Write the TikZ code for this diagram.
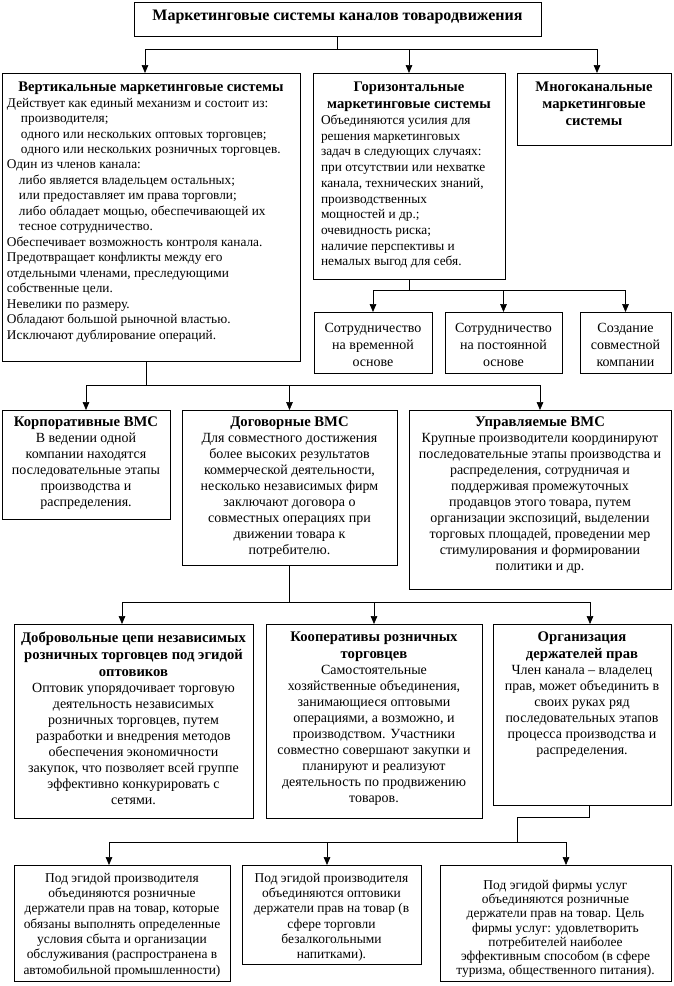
\documentclass[tikz,border=0pt]{standalone}
\usepackage{fontspec}
\setmainfont{Liberation Serif}
\usetikzlibrary{arrows.meta}
\newdimen\pxu \pxu=0.75pt
\newcommand\myTT{\fontsize{12}{14}\bfseries\selectfont}
\newcommand\myT{\fontsize{11}{12.75}\bfseries\selectfont}
\newcommand\myB{\fontsize{10.5}{12}\selectfont}
\newcommand\myM{\fontsize{10.5}{12.75}\selectfont}
\newcommand\myV{\fontsize{10}{11.6}\selectfont}
\newcommand\myH{\fontsize{10}{11.8}\selectfont}
\newcommand\myS{\fontsize{10.1}{11.5}\selectfont}
\newcommand\mySS{\fontsize{10.1}{10.7}\selectfont}
\tikzset{
  boxst/.style={draw, line width=0.5pt, inner sep=0pt, outer sep=0pt, anchor=north west},
  ln/.style={line width=0.5pt},
  arr/.style={ln, -{Triangle[length=6pt,width=5pt]}}
}
\newcommand\drawbox[6]{\node[boxst] (#1) at (#2,#3) {\parbox[t][\dimexpr\pxu*(#5-#3)\relax][t]{\dimexpr\pxu*(#4-#2)\relax}{\centering #6}};}
\begin{document}
\begin{tikzpicture}[x=0.75pt,y=-0.75pt]
\useasboundingbox (0,0) rectangle (674,986);
\fill[white] (0,0) rectangle (674,986);

\drawbox{top}{134}{2}{541}{36}{\vspace*{8\pxu}{\myTT Маркетинговые системы каналов товародвижения\par}}

\drawbox{vert}{2}{73}{300}{361}{\vspace*{9\pxu}{\myT Вертикальные маркетинговые системы\par}
{\myV\raggedright\leftskip=5\pxu
Действует как единый механизм и состоит из:\\
\hspace*{14\pxu}производителя;\\
\hspace*{14\pxu}одного или нескольких оптовых торговцев;\\
\hspace*{14\pxu}одного или нескольких розничных торговцев.\\
Один из членов канала:\\
\hspace*{12\pxu}либо является владельцем остальных;\\
\hspace*{12\pxu}или предоставляет им права торговли;\\
\hspace*{12\pxu}либо обладает мощью, обеспечивающей их\\
\hspace*{12\pxu}тесное сотрудничество.\\
Обеспечивает возможность контроля канала.\\
Предотвращает конфликты между его\\
отдельными членами, преследующими\\
собственные цели.\\
Невелики по размеру.\\
Обладают большой рыночной властью.\\
Исключают дублирование операций.\par}}

\drawbox{hor}{313}{73}{505}{279}{\vspace*{9\pxu}{\myT Горизонтальные\\маркетинговые системы\par}
{\myH\raggedright\leftskip=8\pxu
Объединяются усилия для\\
решения маркетинговых\\
задач в следующих случаях:\\
при отсутствии или нехватке\\
канала, технических знаний,\\
производственных\\
мощностей и др.;\\
очевидность риска;\\
наличие перспективы и\\
немалых выгод для себя.\par}}

\drawbox{multi}{517}{73}{671}{145}{\vspace*{9\pxu}{\myT Многоканальные\\маркетинговые\\системы\par}}

\drawbox{s1}{314}{312}{432}{373}{\vspace*{11\pxu}{\myM Сотрудничество\\на временной\\основе\par}}
\drawbox{s2}{445}{312}{562}{373}{\vspace*{11\pxu}{\myM Сотрудничество\\на постоянной\\основе\par}}
\drawbox{s3}{580}{312}{671}{373}{\vspace*{11\pxu}{\myM Создание\\совместной\\компании\par}}

\drawbox{corp}{2}{410}{170}{519}{\vspace*{7\pxu}{\myT Корпоративные ВМС\par}
{\myB В ведении одной\\компании находятся\\последовательные этапы\\производства и\\распределения.\par}}

\drawbox{dog}{182}{410}{397}{565}{\vspace*{7\pxu}{\myT Договорные ВМС\par}
{\myB Для совместного достижения\\более высоких результатов\\коммерческой деятельности,\\несколько независимых фирм\\заключают договора о\\совместных операциях при\\движении товара к\\потребителю.\par}}

\drawbox{upr}{409}{410}{671}{589}{\vspace*{7\pxu}{\myT Управляемые ВМС\par}
{\myB Крупные производители координируют\\последовательные этапы производства и\\распределения, сотрудничая и\\поддерживая промежуточных\\продавцов этого товара, путем\\организации экспозиций, выделении\\торговых площадей, проведении мер\\стимулирования и формировании\\политики и др.\par}}

\drawbox{dobr}{14}{624}{253}{818}{\vspace*{8\pxu}{\myT Добровольные цепи независимых\\розничных торговцев под эгидой\\оптовиков\par}
{\myB Оптовик упорядочивает торговую\\деятельность независимых\\розничных торговцев, путем\\разработки и внедрения методов\\обеспечения экономичности\\закупок, что позволяет всей группе\\эффективно конкурировать с\\сетями.\par}}

\drawbox{koop}{266}{624}{482}{818}{\vspace*{8\pxu}{\myT Кооперативы розничных\\торговцев\par}
{\myB Самостоятельные\\хозяйственные объединения,\\занимающиеся оптовыми\\операциями, а возможно, и\\производством. Участники\\совместно совершают закупки и\\планируют и реализуют\\деятельность по продвижению\\товаров.\par}}

\drawbox{org}{493}{624}{671}{805}{\vspace*{8\pxu}{\myT Организация\\держателей прав\par}
{\myB Член канала – владелец\\прав, может объединить в\\своих руках ряд\\последовательных этапов\\процесса производства и\\распределения.\par}}

\drawbox{b1}{14}{865}{230}{981}{\vspace*{8\pxu}{\myS Под эгидой производителя\\объединяются розничные\\держатели прав на товар, которые\\обязаны выполнять определенные\\условия сбыта и организации\\обслуживания (распространена в\\автомобильной промышленности)\par}}

\drawbox{b2}{242}{865}{421}{964}{\vspace*{8\pxu}{\myS Под эгидой производителя\\объединяются оптовики\\держатели прав на товар (в\\сфере торговли\\безалкогольными\\напитками).\par}}

\drawbox{b3}{440}{865}{671}{981}{\vspace*{15\pxu}{\mySS Под эгидой фирмы услуг\\объединяются розничные\\держатели прав на товар. Цель\\фирмы услуг: удовлетворить\\потребителей наиболее\\эффективным способом (в сфере\\туризма, общественного питания).\par}}

% connectors
\draw[ln] (top.south) -- ++(0,13) coordinate (j1);
\draw[arr] (j1) -| ([xshift=143\pxu]vert.north west);
\draw[arr] (j1) -| (hor.north);
\draw[arr] (j1) -| ([xshift=80\pxu]multi.north west);

\draw[ln] (hor.south) -- ++(0,11) coordinate (j2);
\draw[arr] (j2) -| (s1.north);
\draw[arr] (j2) -| (s2.north);
\draw[arr] (j2) -| (s3.north);

\draw[ln] ([xshift=144\pxu]vert.south west) -- ++(0,24) coordinate (j3);
\draw[arr] (j3) -| (corp.north);
\draw[arr] (j3) -| (dog.north);
\draw[arr] (j3) -| (upr.north);

\draw[ln] (dog.south) -- ++(0,37) coordinate (j4);
\draw[arr] (j4) -| ([xshift=108\pxu]dobr.north west);
\draw[arr] (j4) -| (koop.north);
\draw[arr] (j4) -| ([xshift=97\pxu]org.north west);

\draw[ln] ([xshift=96\pxu]org.south west) |- ++(-72,12) -- ++(0,25) coordinate (j5);
\draw[arr] (j5) -| ([xshift=95\pxu]b1.north west);
\draw[arr] (j5) -| ([xshift=85\pxu]b2.north west);
\draw[arr] (j5) -| ([xshift=126\pxu]b3.north west);
\end{tikzpicture}
\end{document}
